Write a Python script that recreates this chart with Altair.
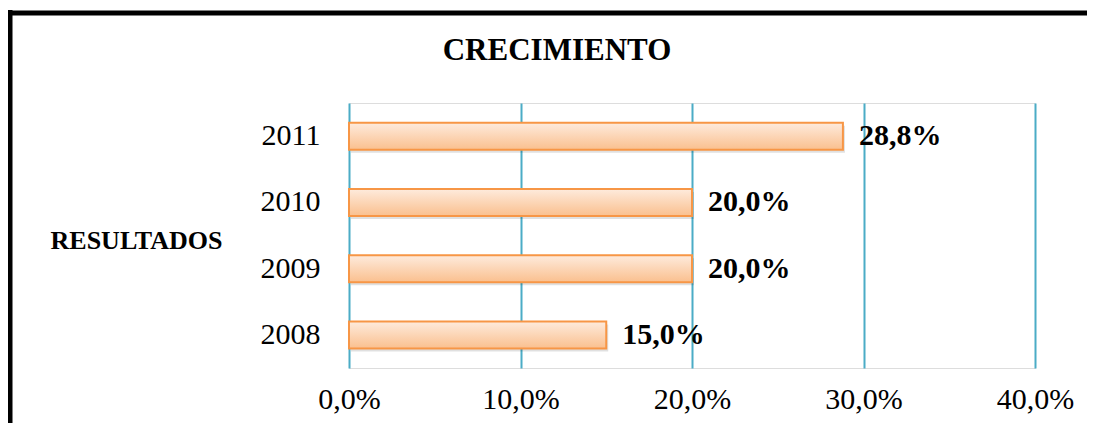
import altair as alt
import pandas as pd

years = ["2011", "2010", "2009", "2008"]
growth = [28.8, 20.0, 20.0, 15.0]
x_ticks = [0, 10, 20, 30, 40]

df = pd.DataFrame({"year": years, "growth": growth})
FONT = "Liberation Serif"

W, H = 686, 265

x_enc = alt.X(
    "growth:Q",
    scale=alt.Scale(domain=[0, 40], nice=False, zero=True),
    axis=alt.Axis(
        values=x_ticks,
        labelExpr="replace(format(datum.value, '.1f'), '.', ',') + '%'",
        grid=True, gridColor="#4BACC6", gridWidth=2,
        domain=False, ticks=False, tickSize=0, labelPadding=16, labelFlush=False,
        labelFont=FONT, labelFontSize=30, labelColor="#000000",
        title=None,
    ),
)
y_enc = alt.Y(
    "year:N",
    sort=years,
    scale=alt.Scale(paddingInner=0, paddingOuter=0),
    axis=alt.Axis(
        domain=False, ticks=False, tickSize=0, labelPadding=29, grid=False,
        labelFont=FONT, labelFontSize=30, labelColor="#000000",
        title="RESULTADOS", titleAngle=0, titleAlign="right", titleBaseline="middle",
        titleX=-127, titleY=137, titleFont=FONT, titleFontSize=26,
        titleFontWeight="bold", titleColor="#000000",
    ),
)

grad = alt.LinearGradient(
    gradient="linear",
    stops=[alt.GradientStop(color="#FEEBDD", offset=0),
           alt.GradientStop(color="#FAC08F", offset=1)],
    x1=0, x2=0, y1=0, y2=1,
)

base = alt.Chart(df)

shadow = base.mark_bar(size=27, color="#000000", opacity=0.12, xOffset=2, yOffset=3).encode(
    x="growth:Q", y=alt.Y("year:N", sort=years)
)

bars = base.mark_bar(size=27, fill=grad, stroke="#F79646", strokeWidth=2).encode(
    x=x_enc, y=y_enc
)

labels = base.mark_text(
    align="left", baseline="middle", dx=16, font=FONT, fontSize=30,
    fontWeight="bold", color="#000000",
).encode(
    x="growth:Q", y=alt.Y("year:N", sort=years),
    text=alt.Text("label:N"),
).transform_calculate(
    label="replace(format(datum.growth, '.1f'), '.', ',') + '%'"
)

one = alt.Chart(pd.DataFrame({"t": ["CRECIMIENTO"]}))
title = one.mark_text(
    align="center", baseline="middle", font=FONT, fontSize=31,
    fontWeight="bold", color="#000000",
).encode(x=alt.value(208), y=alt.value(-52), text="t:N")

left_border = one.mark_rule(color="#000000", strokeWidth=5).encode(
    x=alt.value(-339), y=alt.value(-93), y2=alt.value(340)
)
top_border = one.mark_rule(color="#000000", strokeWidth=5).encode(
    x=alt.value(-341.5), x2=alt.value(760), y=alt.value(-90)
)

chart = alt.layer(shadow, bars, labels, title, left_border, top_border).properties(
    width=W, height=H,
    padding={"left": 341, "top": 95, "right": 52, "bottom": 55},
    autosize=alt.AutoSizeParams(type="none"),
).configure_view(stroke=None).configure(background="#ffffff")

chart.save("out.html", embed_options={"renderer": "svg", "actions": False})
